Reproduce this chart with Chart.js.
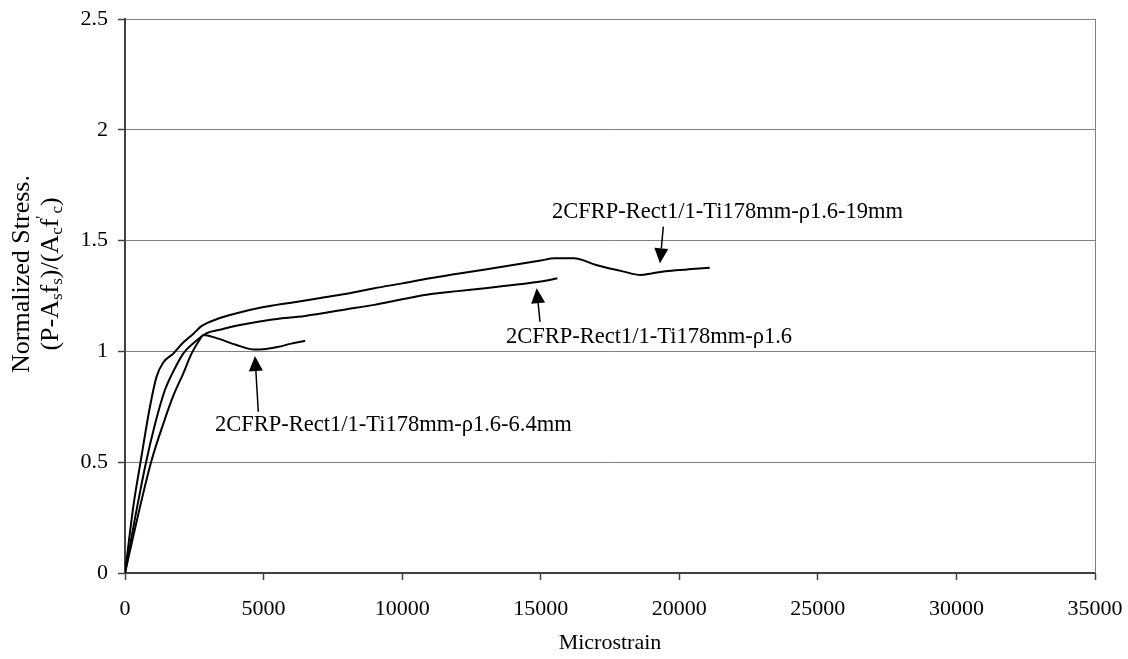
<!DOCTYPE html>
<html>
<head>
<meta charset="utf-8">
<script src="https://cdn.jsdelivr.net/npm/chart.js@4.4.1/dist/chart.umd.min.js"></script>
<style>
  html, body { margin: 0; padding: 0; background: #fff; }
  #wrap { width: 1128px; height: 659px; }
</style>
</head>
<body>
<div id="wrap"><canvas id="grafico" width="1128" height="659"></canvas></div>
<script>
// curva 19mm (superior)
const strain19 = [0, 300, 560, 900, 1140, 1380, 1740, 2100, 2470, 2770, 3300, 4030, 5000, 6000, 7000, 8000, 9000, 10000, 11000, 12000, 13000, 14000, 15000, 15500, 16200, 17000, 18000, 18600, 19000, 19500, 20300, 21100];
const stress19 = [0, 0.30, 0.50, 0.75, 0.886, 0.95, 0.99, 1.04, 1.08, 1.115, 1.145, 1.172, 1.20, 1.22, 1.24, 1.26, 1.285, 1.307, 1.33, 1.35, 1.37, 1.39, 1.41, 1.42, 1.42, 1.39, 1.36, 1.345, 1.352, 1.362, 1.37, 1.378];

// curva rho1.6 (sem tubo)
const strainRho = [0, 380, 760, 1100, 1440, 1650, 2100, 2500, 2950, 3500, 4200, 5200, 6500, 8000, 9000, 10000, 11100, 12000, 13000, 14000, 15000, 15600];
const stressRho = [0, 0.26, 0.50, 0.68, 0.826, 0.886, 0.99, 1.04, 1.082, 1.10, 1.12, 1.142, 1.16, 1.19, 1.21, 1.235, 1.26, 1.272, 1.285, 1.30, 1.315, 1.33];

// curva 6.4mm
const strain64 = [0, 470, 940, 1400, 1744, 2100, 2400, 2706, 2830, 3300, 4000, 4630, 5000, 5500, 6000, 6500];
const stress64 = [0, 0.26, 0.50, 0.68, 0.80, 0.90, 0.99, 1.055, 1.074, 1.06, 1.03, 1.009, 1.01, 1.02, 1.035, 1.048];

const xTicks = [0, 5000, 10000, 15000, 20000, 25000, 30000, 35000];
const yTicks = [0, 0.5, 1, 1.5, 2, 2.5];

// rótulos com seta (coordenadas em unidades do gráfico)
const notas = [
    { texto: '2CFRP-Rect1/1-Ti178mm-ρ1.6-19mm', em: [15406, 1.629], de: [19423, 1.563], para: [19303, 1.398] },
    { texto: '2CFRP-Rect1/1-Ti178mm-ρ1.6', em: [13747, 1.065], de: [14974, 1.134], para: [14854, 1.285] },
    { texto: '2CFRP-Rect1/1-Ti178mm-ρ1.6-6.4mm', em: [3247, 0.668], de: [4810, 0.728], para: [4690, 0.979] }
];

const fonte = '"Liberation Serif", "Times New Roman", serif';

function pares(xs, ys) {
    return xs.map((x, i) => ({ x: x, y: ys[i] }));
}

function serie(xs, ys) {
    return {
        data: pares(xs, ys),
        showLine: true,
        borderColor: '#000',
        borderWidth: 2,
        pointRadius: 0,
        fill: false,
        cubicInterpolationMode: 'monotone'
    };
}

// desenha borda, títulos dos eixos e as setas com os rótulos
const extras = {
    id: 'extras',
    beforeDatasetsDraw(chart) {
        const { ctx, chartArea: a } = chart;
        ctx.save();
        ctx.strokeStyle = '#808080';
        ctx.lineWidth = 1;
        ctx.beginPath();
        ctx.moveTo(a.right + 0.5, a.top);
        ctx.lineTo(a.right + 0.5, a.bottom);
        ctx.stroke();
        ctx.restore();
    },
    afterDatasetsDraw(chart) {
        const { ctx, chartArea: a, scales } = chart;
        const sx = scales.x, sy = scales.y;
        ctx.save();
        ctx.fillStyle = '#000';
        ctx.strokeStyle = '#000';

        notas.forEach(n => {
            ctx.font = '22.5px ' + fonte;
            ctx.textAlign = 'left';
            ctx.textBaseline = 'middle';
            ctx.fillText(n.texto, sx.getPixelForValue(n.em[0]), sy.getPixelForValue(n.em[1]));

            const x0 = sx.getPixelForValue(n.de[0]), y0 = sy.getPixelForValue(n.de[1]);
            const x1 = sx.getPixelForValue(n.para[0]), y1 = sy.getPixelForValue(n.para[1]);
            const ang = Math.atan2(y1 - y0, x1 - x0);
            const comp = 15, meia = 7;
            const bx = x1 - comp * Math.cos(ang), by = y1 - comp * Math.sin(ang);
            ctx.lineWidth = 1.5;
            ctx.beginPath();
            ctx.moveTo(x0, y0);
            ctx.lineTo(bx, by);
            ctx.stroke();
            ctx.beginPath();
            ctx.moveTo(x1, y1);
            ctx.lineTo(bx + meia * Math.sin(ang), by - meia * Math.cos(ang));
            ctx.lineTo(bx - meia * Math.sin(ang), by + meia * Math.cos(ang));
            ctx.closePath();
            ctx.fill();
        });

        // título do eixo x
        ctx.font = '22px ' + fonte;
        ctx.textAlign = 'center';
        ctx.textBaseline = 'middle';
        ctx.fillText('Microstrain', (a.left + a.right) / 2, 643);

        // título do eixo y (duas linhas, com índices)
        ctx.translate(22, 274);
        ctx.rotate(-Math.PI / 2);
        ctx.font = '26px ' + fonte;
        ctx.textAlign = 'center';
        ctx.fillText('Normalized Stress.', 0, 0);

        const partes = [
            ['(P-A', 0], ['s', 1], ['f', 0], ['s', 1], [')/(A', 0], ['c', 1], ['f', 0], ['\'', 2], ['c', 1], [')', 0]
        ];
        const grande = '26px ' + fonte, peq = '17px ' + fonte;
        let total = 0;
        partes.forEach(p => {
            ctx.font = p[1] ? peq : grande;
            total += ctx.measureText(p[0]).width + (p[1] === 2 ? 2 : 0);
        });
        let px = -total / 2;
        ctx.textAlign = 'left';
        partes.forEach(p => {
            ctx.font = p[1] ? peq : grande;
            const dy = p[1] === 1 ? 36 : (p[1] === 2 ? 21 : 29);
            ctx.fillText(p[0], px, dy);
            px += ctx.measureText(p[0]).width + (p[1] === 2 ? 2 : 0);
        });
        ctx.restore();
    }
};

const config = {
    type: 'scatter',
    data: {
        datasets: [serie(strain19, stress19), serie(strainRho, stressRho), serie(strain64, stress64)]
    },
    options: {
        responsive: false,
        animation: false,
        layout: { padding: { top: 19, right: 33, left: 0, bottom: 0 } },
        plugins: { legend: { display: false }, tooltip: { enabled: false } },
        scales: {
            x: {
                type: 'linear',
                min: 0,
                max: 35000,
                afterBuildTicks: s => { s.ticks = xTicks.map(v => ({ value: v })); },
                afterFit: s => {
                    s.height = 86;
                    s.paddingLeft = 0;
                    s.paddingRight = 0;
                },
                ticks: {
                    color: '#000',
                    font: { family: fonte, size: 22 },
                    padding: 16,
                    maxRotation: 0,
                    callback: v => String(v)
                },
                grid: { drawOnChartArea: false, tickLength: 7, tickColor: '#404040', tickWidth: 1.5 },
                border: { color: '#404040', width: 2 }
            },
            y: {
                min: 0,
                max: 2.5,
                afterBuildTicks: s => { s.ticks = yTicks.map(v => ({ value: v })); },
                afterFit: s => {
                    s.width = 125;
                    s.paddingTop = 0;
                    s.paddingBottom = 0;
                },
                ticks: {
                    color: '#000',
                    font: { family: fonte, size: 22 },
                    padding: 10,
                    callback: v => String(v)
                },
                grid: { color: '#808080', lineWidth: 1, tickLength: 7, tickColor: '#404040', tickWidth: 1.5 },
                border: { color: '#404040', width: 2 }
            }
        }
    },
    plugins: [extras]
};

new Chart(document.getElementById('grafico'), config);
</script>
</body>
</html>
